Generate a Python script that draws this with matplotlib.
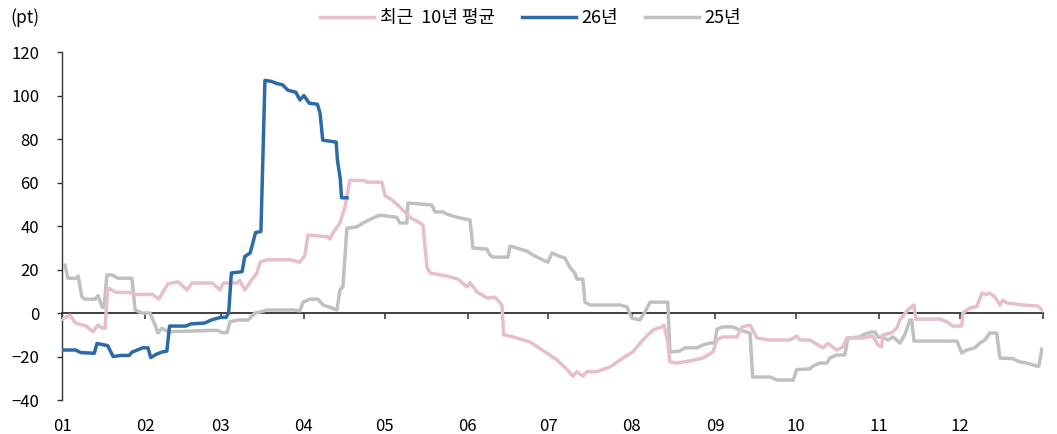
import matplotlib
matplotlib.use("Agg")
import matplotlib.pyplot as plt

plt.rcParams["font.family"] = ["Noto Sans CJK KR", "DejaVu Sans"]

# ── Data (x = days from Jan 1) ────────────────────────────────────────────────

month_starts = [0, 31, 59, 90, 120, 151, 181, 212, 243, 273, 304, 334, 365]
month_labels = ["01", "02", "03", "04", "05", "06", "07", "08", "09", "10", "11", "12"]

avg10_day = [0, 3, 5, 9, 11.5, 13.4, 15, 16, 17, 18, 20, 25, 27, 33, 33.5, 36,
             39.4, 43.2, 46.5, 48.4, 55.8, 58.8, 60, 65.1, 66.2, 68, 71, 72.5,
             73.7, 76.3, 84.8, 88.5, 90.4, 91.5, 99, 99.7, 100.8, 103.4, 105.3,
             107.1, 112, 113.5, 119, 120.2, 122.8, 125.7, 129.5, 133.2, 134.3,
             135.8, 137, 143.2, 147.3, 150.7, 151.8, 154.4, 158.1, 161.1, 163.7,
             164.3, 167.8, 174.1, 180.4, 184.2, 187.9, 190.1, 191.6, 193.8, 195.3,
             199, 203.9, 208.7, 212.4, 216.1, 219.9, 223.2, 224, 225.4, 226.2,
             228.8, 233.6, 238.5, 242.2, 243.7, 245.9, 251.1, 253, 256, 258.6,
             263.4, 270.8, 273.4, 274.6, 278.3, 283.1, 285, 288.3, 290.6, 292, 298,
             301.7, 303.6, 305, 305.4, 308.8, 310.6, 311.8, 314.7, 317, 317.7,
             326.6, 329.2, 331.5, 334.8, 335.2, 337.8, 340.4, 342.3, 344.1, 345.2,
             347.1, 349, 350.1, 351.6, 357.5, 363.1, 365]
avg10_val = [-2.8, -1, -4.6, -6, -8.6, -5.5, -7, -7, 11.5, 11, 9.5, 9.5, 8.5, 8.5,
             8.7, 6.4, 13.5, 14.3, 10.6, 13.8, 13.8, 10.6, 13.8, 13.8, 15, 10.6, 16,
             18.4, 23.4, 24.5, 24.5, 23.4, 26.7, 35.9, 35, 34, 36.8, 41.4, 48.7, 61,
             61, 60.2, 60.2, 54, 52, 48.7, 44, 41.4, 40.5, 21, 18.4, 17, 15.6, 12,
             14, 9.7, 6.9, 7.3, 3.7, -10, -11, -13.3, -18.4, -21.6, -26, -29, -27,
             -29, -27, -27, -24.8, -20.7, -17.9, -12.4, -7.8, -6.4, -5.5, -13.8,
             -22.5, -23, -22, -20.7, -17.9, -12.4, -11, -11, -6.4, -5.5, -11.5,
             -12.4, -12.4, -10.6, -12.4, -12.4, -16, -14, -17, -15.6, -11.5, -11.5,
             -10.6, -14.7, -15.6, -10.1, -9, -6.9, -3.2, 1.4, 3.7, -2.8, -2.8, -4,
             -6, -6, 0, 2.3, 3, 9.2, 8.5, 9.2, 7.4, 3.7, 6, 4.6, 3.7, 3.2, 1]

y26_day = [0, 5, 7, 12, 13, 15, 17, 19, 22, 25, 26, 30, 32, 33, 35, 37, 39, 40,
           46, 48, 53, 56, 59, 61, 62, 63, 67, 68, 70, 72, 74, 75.5, 78, 80, 82,
           84, 87, 88.5, 90, 92, 95, 96, 97, 102, 102.5, 103.5, 104, 106]
y26_val = [-17, -17, -18.2, -18.5, -14, -14.5, -15, -20, -19.5, -19.5, -18, -16,
           -16, -20.5, -19, -18, -17.5, -6, -6, -5, -4.6, -3, -2, -2, 0, 18.4, 19,
           26, 27.6, 37, 37.5, 107, 106.5, 105.5, 105, 102.5, 101.5, 98, 100, 96.5,
           96, 92, 79.5, 78.6, 70, 62, 53, 53]

y25_day = [1.1, 2.2, 5.6, 6, 7.4, 8.6, 12.3, 13.4, 14.9, 15.6, 16.7, 18.6, 20.8,
           26, 27.2, 29.8, 32.7, 34.6, 35.7, 37.2, 39.4, 55.8, 58, 59.5, 61.4,
           62.5, 65.5, 69.2, 71.8, 73.7, 76.3, 85.9, 88.5, 89.7, 92.3, 95.2, 97.1,
           100.4, 102.3, 103.4, 104.5, 106, 109.7, 112, 115.7, 118.3, 124.6,
           125.7, 128.3, 128.7, 137.6, 138.8, 141.7, 143.2, 147, 151.8, 152.9,
           158.1, 159.2, 160.3, 165.9, 166.7, 170.4, 173, 175.2, 178.9, 180.8,
           182.3, 185.3, 187.1, 189, 190.8, 191.6, 193.8, 194.6, 196.4, 207.6,
           210.2, 212, 215, 216.9, 218.8, 225.4, 226.2, 229.9, 231.8, 236.2,
           238.5, 241.1, 242.9, 243.7, 245.9, 249.6, 252.2, 256, 257, 263.4, 266,
           270.8, 272, 273.4, 278.3, 279.4, 282, 284.6, 285.7, 288.3, 291.3,
           292.4, 297, 298, 301.3, 302.5, 303.6, 305.4, 307.3, 309.2, 311.8,
           313.6, 315.5, 316.2, 317, 333, 334.8, 336.7, 339.7, 341.5, 343.4,
           345.2, 347.8, 349, 353.8, 356.4, 359, 362.7, 363.5, 364.6]
y25_val = [22, 16, 16, 17, 7.4, 6.4, 6.4, 8, 2.8, 2.5, 17.5, 17.5, 16, 16, 1.4, 0,
           0, -5.5, -9.2, -7, -8.6, -8, -8, -9, -9, -4, -3.2, -3.2, 0, 0.5, 1.4,
           1.4, 1, 5, 6.4, 6.4, 3.7, 2.3, 1.4, 10.6, 12, 39, 39.6, 41.4, 43.7, 45,
           44, 41.4, 41.4, 50.6, 49.7, 46.5, 46.5, 45.5, 44, 42.8, 29.9, 29.4,
           26.7, 25.7, 25.7, 30.8, 29.4, 28.5, 26.7, 24.4, 23.4, 27.6, 26, 25.3,
           21, 18.4, 15.6, 15.6, 5, 3.7, 3.7, 2.8, -2.3, -3.2, 0.5, 5, 5, -17.9,
           -17.5, -16, -16, -14.7, -13.8, -13.8, -7.4, -6.4, -6.4, -7.8, -9.2,
           -29.4, -29.4, -30.8, -30.8, -31, -26, -25.7, -24.4, -23, -23, -20.7,
           -19.3, -19.3, -11.5, -11, -10, -8.7, -8.7, -11, -11, -12.4, -11, -13.8,
           -10, -3.2, -3.2, -12.9, -12.9, -18.4, -17, -16, -13.8, -12.4, -9.2,
           -9.2, -20.7, -21, -22.5, -23, -24.4, -24.4, -16.6]

# ── Figure ───────────────────────────────────────────────────────────────────

fig = plt.figure(figsize=(10.57, 4.34), dpi=100)
ax = fig.add_axes([0.0587, 0.0783, 0.928, 0.8017])

l_gray, = ax.plot(y25_day, y25_val, color="#c0c0c0", lw=2.5, label="25년",
                  zorder=3, solid_joinstyle="round")
l_pink, = ax.plot(avg10_day, avg10_val, color="#e6bfcb", lw=2.5,
                  label="최근  10년 평균", zorder=3, solid_joinstyle="round")
l_blue, = ax.plot(y26_day, y26_val, color="#2e6aa8", lw=2.5, label="26년",
                  zorder=4, solid_joinstyle="round")

ax.set_xlim(0, 365)
ax.set_ylim(-40, 120)
ax.set_yticks(range(-40, 121, 20))
ax.set_xticks(month_starts[:-1])
ax.set_xticklabels(month_labels)

for s in ["top", "right", "bottom"]:
    ax.spines[s].set_visible(False)
ax.spines["left"].set_color("#333333")
ax.spines["left"].set_linewidth(1.0)
ax.tick_params(axis="y", direction="out", length=3.5, width=1.0,
               color="#333333", pad=13, labelsize=12)
ax.tick_params(axis="x", length=0, pad=13, labelsize=12)

# zero line with month ticks
zero_ax = ax.secondary_xaxis(40 / 160)
zero_ax.set_xticks(month_starts)
zero_ax.set_xticklabels([])
zero_ax.spines["bottom"].set_color("#404040")
zero_ax.spines["bottom"].set_linewidth(1.4)
zero_ax.tick_params(axis="x", direction="out", length=4, width=1.2,
                    color="#404040")

fig.text(25 / 1057, 1 - 18 / 434, "(pt)", ha="center", va="center", fontsize=12.5)

fig.legend(handles=[l_pink, l_blue, l_gray], loc="center",
           bbox_to_anchor=(0.502, 1 - 18 / 434), ncol=3, frameon=False,
           fontsize=13, handlelength=3.0, handletextpad=0.3,
           columnspacing=1.5)

fig.savefig("out.png", dpi=100)
